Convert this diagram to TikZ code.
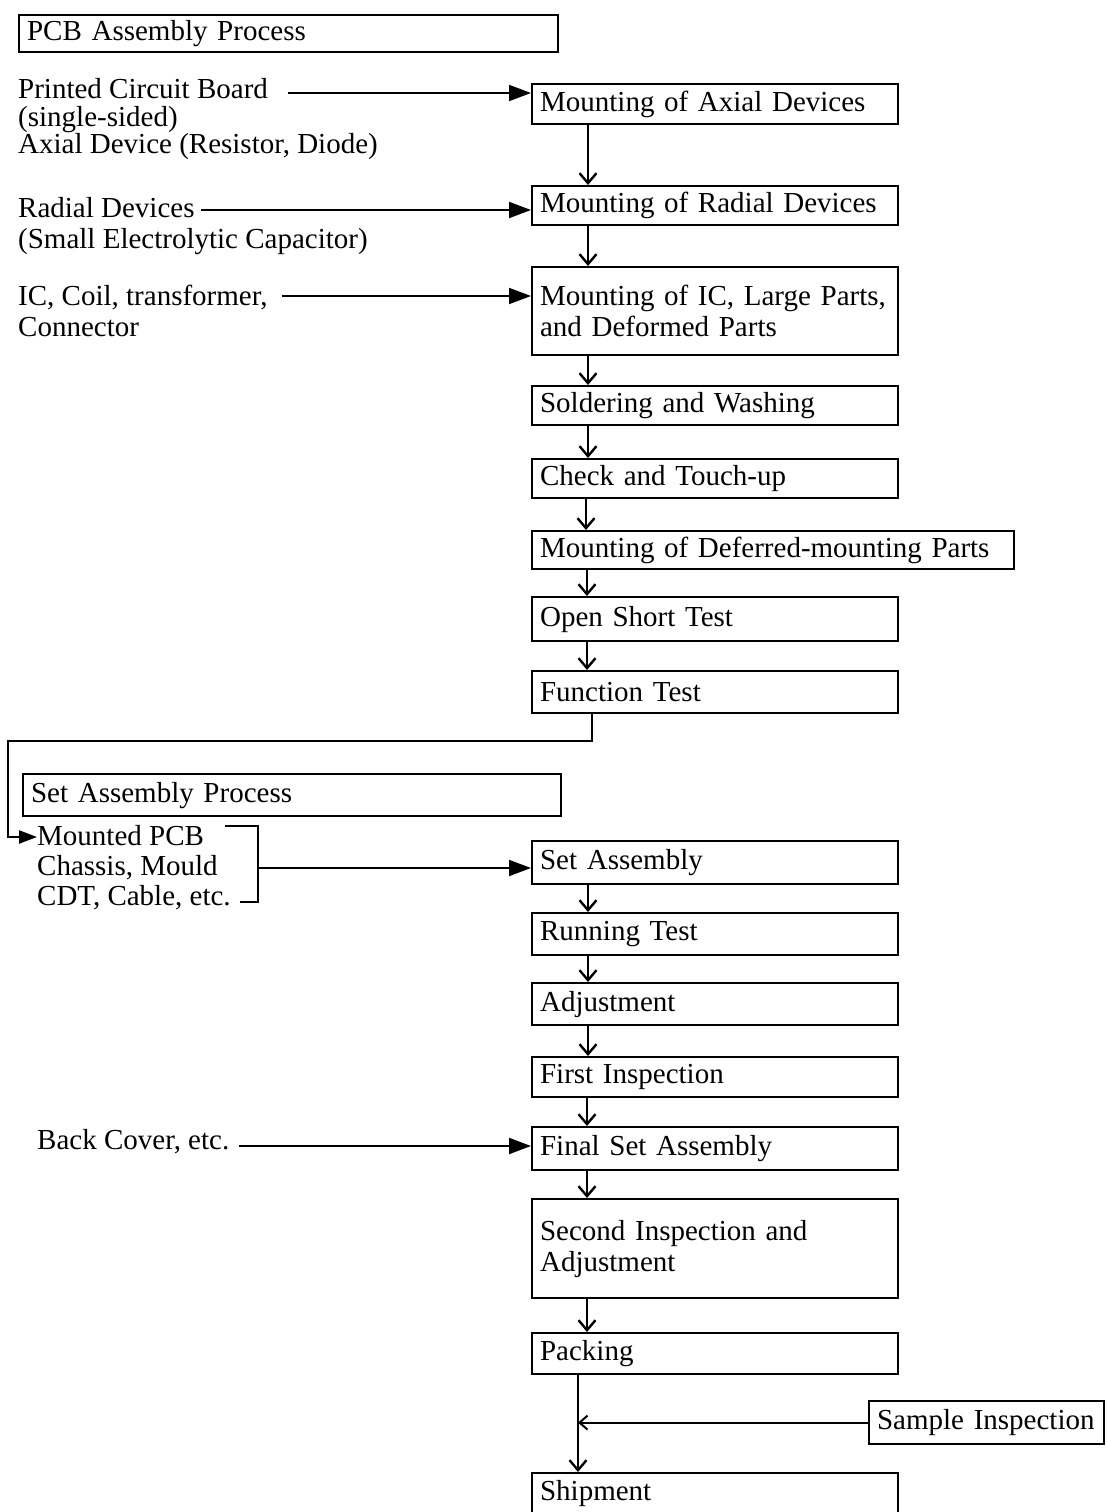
\documentclass[tikz,border=0pt]{standalone}
\usepackage{fontspec}
\setmainfont{Liberation Serif}
\usetikzlibrary{arrows.meta}
\begin{document}
\begin{tikzpicture}[x=1pt,y=-1pt,
  every node/.style={font=\fontsize{29}{31}\selectfont},
  stepbox/.style={draw, line width=2.2pt, anchor=north west, inner xsep=8pt,
    inner ysep=0pt, align=left, text width=350pt},
  label/.style={anchor=base west, inner sep=0pt},
  feed/.style={line width=2pt, -{Triangle[length=22pt,width=16pt]}},
  flow/.style={line width=2.4pt, -{Straight Barb[length=10pt,width=17pt]}},
  plain/.style={line width=2.2pt}]
\useasboundingbox (0,0) rectangle (1106,1512);

% ---- PCB assembly section ----
\node[stepbox, text width=523pt, minimum height=37pt] (pcbhdr) at (18,14) {PCB Assembly Process};

\node[stepbox, minimum height=40pt] (axial)  at (531,83)  {Mounting of Axial Devices};
\node[stepbox, minimum height=39pt] (radial) at (531,185) {Mounting of Radial Devices};
\node[stepbox, minimum height=88pt] (ic)     at (531,266) {Mounting of IC, Large Parts,\\and Deformed Parts};
\node[stepbox, minimum height=39pt] (solder) at (531,385) {Soldering and Washing};
\node[stepbox, minimum height=39pt] (check)  at (531,458) {Check and Touch-up};
\node[stepbox, text width=466pt, minimum height=38pt] (defer) at (531,530) {Mounting of Deferred-mounting Parts};
\node[stepbox, minimum height=44pt] (open)   at (531,596) {Open Short Test};
\node[stepbox, minimum height=42pt] (func)   at (531,670) {Function Test};

\node[label] (pcb1) at (18,99)  {Printed Circuit Board};
\node[label] (pcb2) at (18,126) {(single-sided)};
\node[label] (pcb3) at (18,153) {Axial Device (Resistor, Diode)};
\node[label] (rad1) at (18,217) {Radial Devices};
\node[label] (rad2) at (18,248) {(Small Electrolytic Capacitor)};
\node[label] (ic1)  at (18,305) {IC, Coil, transformer,};
\node[label] (ic2)  at (18,336) {Connector};

\coordinate (s1) at ([xshift=20pt,yshift=6pt]pcb1.base east);
\coordinate (s2) at ([xshift=6pt,yshift=7pt]rad1.base east);
\coordinate (s3) at ([xshift=14pt,yshift=9pt]ic1.base east);
\draw[feed] (s1) -- (s1 -| axial.west);
\draw[feed] (s2) -- (s2 -| radial.west);
\draw[feed] (s3) -- (s3 -| ic.west);

\draw[flow] ([xshift=57pt]axial.south west)  -- ([xshift=57pt]radial.north west);
\draw[flow] ([xshift=57pt]radial.south west) -- ([xshift=57pt]ic.north west);
\draw[flow] ([xshift=57pt]ic.south west)     -- ([xshift=57pt]solder.north west);
\draw[flow] ([xshift=57pt]solder.south west) -- ([xshift=57pt]check.north west);
\draw[flow] ([xshift=55pt]check.south west)  -- ([xshift=55pt]defer.north west);
\draw[flow] ([xshift=56pt]defer.south west)  -- ([xshift=56pt]open.north west);
\draw[flow] ([xshift=56pt]open.south west)   -- ([xshift=56pt]func.north west);

% ---- Set assembly section ----
\node[stepbox, text width=522pt, minimum height=42pt] (sethdr) at (22,773) {Set Assembly Process};

\node[label] (mp1) at (37,845) {Mounted PCB};
\node[label] (mp2) at (37,875) {Chassis, Mould};
\node[label] (mp3) at (37,905) {CDT, Cable, etc.};

% hand-over from the PCB line to the set line
\coordinate (loopcorner) at (8,741);
\draw[line width=2.2pt, -{Triangle[length=18pt,width=13pt]}]
  ([xshift=61pt]func.south west) |- (loopcorner) |- ([yshift=8pt]mp1.base west);

% bracket grouping the set-assembly inputs
\coordinate (brtl) at (225,826);
\coordinate (brtr) at (258,826);
\coordinate (brbr) at (258,902);
\coordinate (brbl) at (240,902);
\coordinate (brmid) at (258,868);
\draw[plain] (brtl) -- (brtr) -- (brbr) -- (brbl);

\node[stepbox, minimum height=43pt] (setasm) at (531,840)  {Set Assembly};
\node[stepbox, minimum height=42pt] (run)    at (531,912)  {Running Test};
\node[stepbox, minimum height=42pt] (adj)    at (531,982)  {Adjustment};
\node[stepbox, minimum height=40pt] (first)  at (531,1056) {First Inspection};
\node[stepbox, minimum height=43pt] (final)  at (531,1126) {Final Set Assembly};
\node[stepbox, minimum height=99pt] (second) at (531,1198) {Second Inspection and\\Adjustment};
\node[stepbox, minimum height=41pt] (pack)   at (531,1332) {Packing};
\node[stepbox, minimum height=40pt] (ship)   at (531,1472) {Shipment};
\node[stepbox, text width=219pt, minimum height=43pt] (sample) at (868,1400) {Sample Inspection};

\node[label] (back) at (37,1149) {Back Cover, etc.};

\draw[feed] (brmid) -- (brmid -| setasm.west);
\coordinate (s4) at ([xshift=10pt,yshift=3pt]back.base east);
\draw[feed] (s4) -- (s4 -| final.west);

\draw[flow] ([xshift=57pt]setasm.south west) -- ([xshift=57pt]run.north west);
\draw[flow] ([xshift=57pt]run.south west)    -- ([xshift=57pt]adj.north west);
\draw[flow] ([xshift=57pt]adj.south west)    -- ([xshift=57pt]first.north west);
\draw[flow] ([xshift=56pt]first.south west)  -- ([xshift=56pt]final.north west);
\draw[flow] ([xshift=56pt]final.south west)  -- ([xshift=56pt]second.north west);
\draw[flow] ([xshift=56pt]second.south west) -- ([xshift=56pt]pack.north west);
\draw[flow] ([xshift=47pt]pack.south west)   -- ([xshift=47pt]ship.north west);

\coordinate (join) at ([xshift=47pt]ship.north west);
\draw[line width=2pt, -{Straight Barb[length=8pt,width=14pt]}] (sample.west) -- (sample.west -| join);
\end{tikzpicture}
\end{document}
